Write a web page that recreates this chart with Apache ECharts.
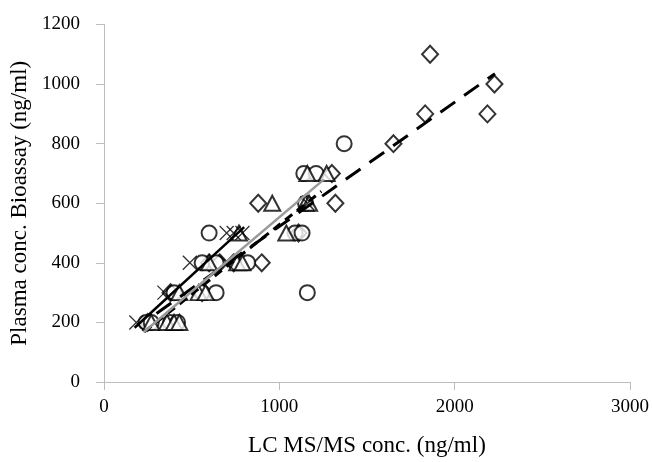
<!DOCTYPE html>
<html>
<head>
<meta charset="utf-8">
<script src="https://cdn.jsdelivr.net/npm/echarts@6/dist/echarts.min.js"></script>
<style>
  html, body { margin: 0; padding: 0; background: #fff; }
  #chart { width: 652px; height: 462px; }
</style>
</head>
<body>
<div id="chart"></div>
<script>
  // [LC MS/MS conc, bioassay conc] (ng/ml)
  const diamondPts = [
    [250, 200], [380, 300], [560, 300], [600, 400], [660, 400], [740, 400], [900, 400],
    [1110, 500], [880, 600], [1320, 600], [1300, 700], [1651, 800],
    [1832, 900], [2187, 900], [2227, 1000], [1860, 1100]
  ]
  const circlePts = [
    [240, 200], [270, 200], [380, 200], [420, 200],
    [400, 300], [560, 300], [640, 300], [1160, 300],
    [560, 400], [640, 400], [820, 400],
    [600, 500], [1090, 500], [1130, 500],
    [1150, 600], [1140, 700], [1210, 700], [1370, 800]
  ]
  const trianglePts = [
    [270, 200], [360, 200], [400, 200], [430, 200],
    [430, 300], [540, 300], [580, 300],
    [600, 400], [760, 400], [790, 400],
    [770, 500], [1040, 500],
    [960, 600], [1150, 600], [1170, 600],
    [1160, 700], [1270, 700]
  ]
  const crossPts = [
    [185, 200], [345, 300], [490, 400], [700, 400],
    [700, 500], [740, 500], [790, 500], [1160, 600]
  ]

  // trend lines (end points)
  const diamondFit = [[300, 230], [2230, 1035]]
  const circleFit = [[230, 168], [1240, 640]]
  const triangleFit = [[226, 167], [1255, 680]]
  const crossFit = [[175, 182], [800, 520]]

  const xTicks = [0, 1000, 2000, 3000]
  const yTicks = [0, 200, 400, 600, 800, 1000, 1200]

  const font = 'Liberation Serif'
  const crossPath = 'path://M0 0L10 10M10 0L0 10'

  const chart = echarts.init(document.getElementById('chart'))

  const marker = (name, data, symbol, size) => ({
    name,
    type: 'scatter',
    data,
    symbol,
    symbolSize: size,
    itemStyle: {
      color: symbol.startsWith('path') ? 'rgba(0,0,0,0)' : '#000',
      borderColor: '#000',
      borderWidth: 1.3
    },
    z: 3
  })

  const fitLine = (data, color, width, type) => ({
    type: 'line',
    data,
    showSymbol: false,
    symbol: 'none',
    lineStyle: { color, width, type, cap: 'butt' },
    z: 4
  })

  chart.setOption({
    animation: false,
    backgroundColor: '#fff',
    grid: { left: 103.5, right: 21.5, top: 24.5, bottom: 79 },
    xAxis: {
      type: 'value',
      min: xTicks[0],
      max: xTicks[xTicks.length - 1],
      interval: 1000,
      name: 'LC MS/MS conc. (ng/ml)',
      nameLocation: 'middle',
      nameGap: 52,
      nameTextStyle: { fontFamily: font, fontSize: 23, color: '#000' },
      axisLine: { lineStyle: { color: '#bdbdbd', width: 1 } },
      axisTick: { show: true, length: 8, inside: false, lineStyle: { color: '#bdbdbd' } },
      axisLabel: { fontFamily: font, fontSize: 19, color: '#000', margin: 16, formatter: v => String(v) },
      splitLine: { show: false }
    },
    yAxis: {
      type: 'value',
      min: yTicks[0],
      max: yTicks[yTicks.length - 1],
      interval: 200,
      name: 'Plasma conc. Bioassay (ng/ml)',
      nameLocation: 'middle',
      nameGap: 70,
      nameTextStyle: { fontFamily: font, fontSize: 23, color: '#000' },
      axisLine: { show: true, lineStyle: { color: '#bdbdbd', width: 1 } },
      axisTick: { show: true, length: 8, inside: false, lineStyle: { color: '#bdbdbd' } },
      axisLabel: { fontFamily: font, fontSize: 19, color: '#000', margin: 24, formatter: v => String(v) },
      splitLine: { show: false }
    },
    series: [
      marker('diamond', diamondPts, 'emptyDiamond', [16, 17]),
      marker('circle', circlePts, 'emptyCircle', 15),
      marker('triangle', trianglePts, 'emptyTriangle', [16, 15]),
      marker('cross', crossPts, crossPath, 14),
      fitLine(diamondFit, '#000', 3, [18, 11]),
      fitLine(circleFit, '#000', 3, [9, 6]),
      fitLine(triangleFit, '#9a9a9a', 2.5, 'solid'),
      fitLine(crossFit, '#000', 2.5, 'solid')
    ]
  })
</script>
</body>
</html>
